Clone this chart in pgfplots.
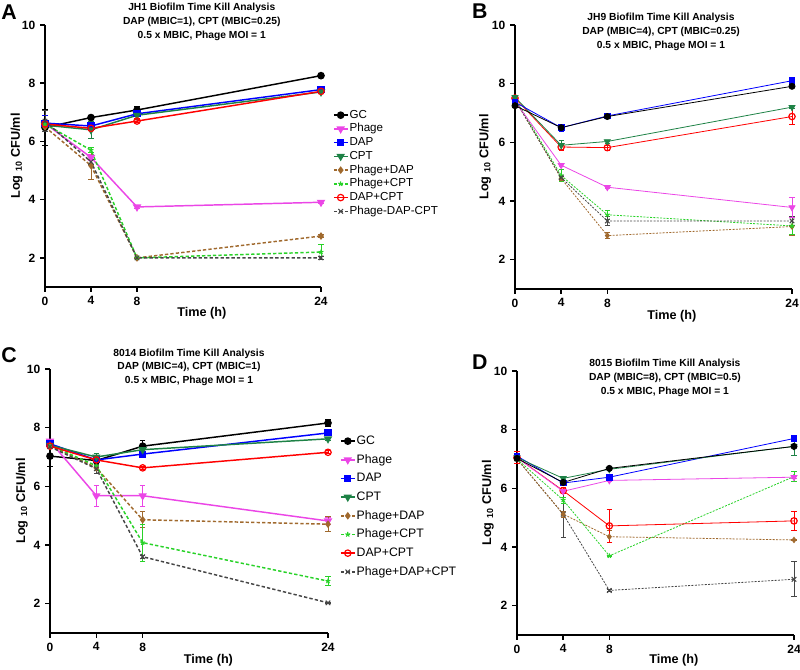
\documentclass[border=0pt]{standalone}
\usepackage{fontspec}
\setmainfont{Liberation Sans}
\usepackage{pgfplots}
\pgfplotsset{compat=1.18}
\definecolor{cMag}{RGB}{235,70,230}
\definecolor{cCPT}{RGB}{30,130,70}
\definecolor{cBrown}{RGB}{160,105,45}
\definecolor{cLime}{RGB}{40,210,40}
\definecolor{cGray}{RGB}{70,70,70}
\pgfplotsset{
  eb/.style={error bars/y dir=both, error bars/y explicit,
     error bars/error bar style={line width=0.6pt,solid},
     error bars/error mark options={rotate=90, mark size=2pt, line width=0.6pt, solid}},
  panel/.style={scale only axis, clip=false, axis lines*=left,
     xmin=0, xmax=24, ymin=1, ymax=10,
     xtick={0,4,8,24}, ytick={2,4,6,8,10},
     tick align=outside, major tick length=3.75pt,
     axis line style={line width=1.4pt, black},
     tick style={line width=1.2pt, black},
     tick label style={font=\bfseries\fontsize{9}{10}\selectfont},
     /pgf/number format/assume math mode=true,
     label style={font=\bfseries\fontsize{9.5}{11}\selectfont},
     xlabel={Time (h)}, ylabel={Log \textsubscript{10} CFU/ml},
     title style={font=\bfseries\fontsize{7.7}{10.35}\selectfont, align=center, anchor=north, inner sep=0pt},
     legend cell align=left,
     legend image code/.code={\draw[mark repeat=2,mark phase=2] plot coordinates {(0cm,0cm) (0.18cm,0cm) (0.36cm,0cm)};},
  },
  thk/.style={line width=1.1pt},
  thn/.style={line width=0.6pt},
  dA/.style={dash pattern=on 2.5pt off 1.6pt},
  dB/.style={dash pattern=on 1.5pt off 1pt},
  sGC/.style={black, mark=*, mark size=2.3pt, mark options={solid}, eb},
  sPh/.style={cMag, mark=triangle*, mark size=2.6pt, mark options={solid, rotate=180}, eb},
  sDAP/.style={blue, mark=square*, mark size=2.1pt, mark options={solid}, eb},
  sCPT/.style={cCPT, mark=triangle*, mark size=2.6pt, mark options={solid, rotate=180}, eb},
  sPD/.style={cBrown, mark=diamond*, mark size=2pt, mark options={solid}, eb},
  sPC/.style={cLime, mark=star, mark size=1.9pt, mark options={solid, line width=0.8pt}, eb},
  sDC/.style={red, mark=o, mark size=2.4pt, mark options={solid, line width=0.9pt}, eb},
  sPDC/.style={cGray, mark=x, mark size=2.4pt, mark options={solid, line width=0.8pt}, eb},
}
\begin{document}
\begin{tikzpicture}
\useasboundingbox (0,0) rectangle (600pt,502.5pt);
% panel letters
\node[anchor=north west, inner sep=0pt, font=\bfseries\fontsize{16}{18}\selectfont] at (0.75pt,498.75pt) {A};
\node[anchor=north west, inner sep=0pt, font=\bfseries\fontsize{16}{18}\selectfont] at (353.8pt,499.5pt) {B};
\node[anchor=north west, inner sep=0pt, font=\bfseries\fontsize{16}{18}\selectfont] at (0.75pt,242.25pt) {C};
\node[anchor=north west, inner sep=0pt, font=\bfseries\fontsize{16}{18}\selectfont] at (353.8pt,236.25pt) {D};

%================= A =================
\begin{axis}[panel, at={(33.75pt,287.25pt)}, anchor=origin, width=207pt, height=196.5pt,
  title={JH1 Biofilm Time Kill Analysis\\DAP (MBIC=1), CPT (MBIC=0.25)\\0.5 x MBIC, Phage MOI = 1},
  title style={at={(rel axis cs:0.568,1)}, yshift=10.3pt},
  xlabel style={at={(axis description cs:0.568,-0.099)}, anchor=center},
  ylabel style={at={(axis description cs:-0.103,0.5)}, anchor=center},
  legend style={at={(rel axis cs:1.043,0.683)}, anchor=north west, draw=none, fill=none,
     font=\fontsize{8.7}{10.3}\selectfont, inner sep=0pt, row sep=0pt,
     nodes={inner sep=1pt, text height=6.4pt, text depth=1.9pt}},
]
\addplot[sGC, thk] coordinates {(0,6.48) +- (0,0.62) (4,6.82) +- (0,0.05) (8,7.08) +- (0,0.12) (24,8.26) +- (0,0.04)};
\addlegendentry{GC}
\addplot[sPh, thk] coordinates {(0,6.62) +- (0,0.05) (4,5.45) +- (0,0.1) (8,3.75) +- (0,0.05) (24,3.91) +- (0,0.05)};
\addlegendentry{Phage}
\addplot[sDAP, thk] coordinates {(0,6.63) +- (0,0.27) (4,6.53) +- (0,0.08) (8,6.95) +- (0,0.1) (24,7.78) +- (0,0.05)};
\addlegendentry{DAP}
\addplot[sCPT, thk] coordinates {(0,6.56) +- (0,0.1) (4,6.4) +- (0,0.3) (8,6.9) +- (0,0.1) (24,7.7) +- (0,0.05)};
\addlegendentry{CPT}
\addplot[sPD, thk, dA] coordinates {(0,6.5) +- (0,0.1) (4,5.17) +- (0,0.47) (8,2.0) +- (0,0.03) (24,2.75) +- (0,0.05)};
\addlegendentry{Phage+DAP}
\addplot[sPC, thk, dA] coordinates {(0,6.6) +- (0,0.1) (4,5.7) +- (0,0.08) (8,2.0) +- (0,0.03) (24,2.2) +- (0,0.25)};
\addlegendentry{Phage+CPT}
\addplot[sDC, thk] coordinates {(0,6.6) +- (0,0.1) (4,6.45) +- (0,0.05) (8,6.7) +- (0,0.05) (24,7.72) +- (0,0.05)};
\addlegendentry{DAP+CPT}
\addplot[sPDC, thk, dA] coordinates {(0,6.7) +- (0,0.35) (4,5.3) +- (0,0.1) (8,2.0) +- (0,0.03) (24,2.0) +- (0,0.05)};
\addlegendentry{Phage-DAP-CPT}
\end{axis}

%================= B =================
\begin{axis}[panel, at={(386.25pt,285.75pt)}, anchor=origin, width=207.75pt, height=198pt,
  title={JH9 Biofilm Time Kill Analysis\\DAP (MBIC=4), CPT (MBIC=0.25)\\0.5 x MBIC, Phage MOI = 1},
  title style={at={(rel axis cs:0.527,1)}, yshift=2.8pt},
  xlabel style={at={(axis description cs:0.566,-0.102)}, anchor=center},
  ylabel style={at={(axis description cs:-0.108,0.5)}, anchor=center},
]
\addplot[sPD, thn, dB] coordinates {(0,7.45) +- (0,0.05) (4,4.77) +- (0,0.07) (8,2.82) +- (0,0.1) (24,3.13) +- (0,0.3)};
\addplot[sPC, thn, dB] coordinates {(0,7.5) +- (0,0.05) (4,4.87) +- (0,0.2) (8,3.53) +- (0,0.15) (24,3.15) +- (0,0.3)};
\addplot[sPDC, thn, dB] coordinates {(0,7.45) +- (0,0.05) (4,4.8) +- (0,0.05) (8,3.32) +- (0,0.15) (24,3.32) +- (0,0.15)};
\addplot[sPh, thn] coordinates {(0,7.4) +- (0,0.05) (4,5.22) +- (0,0.05) (8,4.47) +- (0,0.05) (24,3.78) +- (0,0.35)};
\addplot[sDC, thn] coordinates {(0,7.51) +- (0,0.05) (4,5.84) +- (0,0.12) (8,5.82) +- (0,0.08) (24,6.88) +- (0,0.28)};
\addplot[sCPT, thn] coordinates {(0,7.54) +- (0,0.05) (4,5.9) +- (0,0.15) (8,6.03) +- (0,0.05) (24,7.2) +- (0,0.05)};
\addplot[sDAP, thn] coordinates {(0,7.37) +- (0,0.05) (4,6.5) +- (0,0.12) (8,6.9) +- (0,0.1) (24,8.1) +- (0,0.12)};
\addplot[sGC, thn] coordinates {(0,7.25) +- (0,0.05) (4,6.5) +- (0,0.1) (8,6.88) +- (0,0.05) (24,7.91) +- (0,0.05)};
\end{axis}

%================= C =================
\begin{axis}[panel, at={(37.5pt,27.75pt)}, anchor=origin, width=208.5pt, height=198pt,
  title={8014 Biofilm Time Kill Analysis\\DAP (MBIC=4), CPT (MBIC=1)\\0.5 x MBIC, Phage MOI = 1},
  title style={at={(rel axis cs:0.5,1)}, yshift=9.5pt},
  xlabel style={at={(axis description cs:0.57,-0.102)}, anchor=center},
  ylabel style={at={(axis description cs:-0.101,0.5)}, anchor=center},
  legend style={at={(rel axis cs:1.043,0.755)}, anchor=north west, draw=none, fill=none,
     font=\fontsize{9.2}{11}\selectfont, inner sep=0pt, row sep=3.2pt,
     nodes={inner sep=1pt, text height=6.8pt, text depth=2pt}},
]
\addplot[sGC, thk] coordinates {(0,7.03) +- (0,0.35) (4,6.88) +- (0,0.1) (8,7.37) +- (0,0.18) (24,8.16) +- (0,0.12)};
\addlegendentry{GC}
\addplot[sPh, thk] coordinates {(0,7.54) +- (0,0.05) (4,5.68) +- (0,0.35) (8,5.68) +- (0,0.35) (24,4.82) +- (0,0.12)};
\addlegendentry{Phage}
\addplot[sDAP, thk] coordinates {(0,7.45) +- (0,0.05) (4,6.9) +- (0,0.05) (8,7.1) +- (0,0.05) (24,7.82) +- (0,0.05)};
\addlegendentry{DAP}
\addplot[sCPT, thk] coordinates {(0,7.4) +- (0,0.05) (4,7.0) +- (0,0.12) (8,7.25) +- (0,0.05) (24,7.62) +- (0,0.05)};
\addlegendentry{CPT}
\addplot[sPD, thk, dA] coordinates {(0,7.4) +- (0,0.05) (4,6.63) +- (0,0.1) (8,4.86) +- (0,0.27) (24,4.71) +- (0,0.25)};
\addlegendentry{Phage+DAP}
\addplot[sPC, thk, dA] coordinates {(0,7.4) +- (0,0.05) (4,6.7) +- (0,0.05) (8,4.08) +- (0,0.63) (24,2.77) +- (0,0.15)};
\addlegendentry{Phage+CPT}
\addplot[sDC, thk] coordinates {(0,7.37) +- (0,0.05) (4,6.9) +- (0,0.05) (8,6.63) +- (0,0.05) (24,7.16) +- (0,0.05)};
\addlegendentry{DAP+CPT}
\addplot[sPDC, thk, dA] coordinates {(0,7.35) +- (0,0.05) (4,6.6) +- (0,0.15) (8,3.6) +- (0,0.05) (24,2.03) +- (0,0.03)};
\addlegendentry{Phage+DAP+CPT}
\end{axis}

%================= D =================
\begin{axis}[panel, at={(387.75pt,26.25pt)}, anchor=origin, width=207.75pt, height=198pt,
  title={8015 Biofilm Time Kill Analysis\\DAP (MBIC=8), CPT (MBIC=0.5)\\0.5 x MBIC, Phage MOI = 1},
  title style={at={(rel axis cs:0.534,1)}, yshift=2.8pt},
  xlabel style={at={(axis description cs:0.566,-0.095)}, anchor=center},
  ylabel style={at={(axis description cs:-0.105,0.5)}, anchor=center},
]
\addplot[sPDC, thn, dB] coordinates {(0,7.0) +- (0,0.05) (4,5.12) +- (0,0.8) (8,2.52) +- (0,0.03) (24,2.9) +- (0,0.6)};
\addplot[sPD, thn, dB] coordinates {(0,7.0) +- (0,0.05) (4,5.12) +- (0,0.1) (8,4.35) +- (0,0.2) (24,4.24) +- (0,0.03)};
\addplot[sPC, thn, dB] coordinates {(0,7.0) +- (0,0.05) (4,5.6) +- (0,0.1) (8,3.7) +- (0,0.03) (24,6.4) +- (0,0.18)};
\addplot[sDC, thn] coordinates {(0,7.05) +- (0,0.2) (4,5.92) +- (0,0.1) (8,4.72) +- (0,0.55) (24,4.89) +- (0,0.33)};
\addplot[sPh, thn] coordinates {(0,7.05) +- (0,0.05) (4,5.9) +- (0,0.05) (8,6.27) +- (0,0.05) (24,6.38) +- (0,0.05)};
\addplot[sDAP, thn] coordinates {(0,7.1) +- (0,0.05) (4,6.18) +- (0,0.05) (8,6.38) +- (0,0.05) (24,7.7) +- (0,0.05)};
\addplot[sCPT, thn] coordinates {(0,7.05) +- (0,0.05) (4,6.34) +- (0,0.05) (8,6.65) +- (0,0.05) (24,7.43) +- (0,0.3)};
\addplot[sGC, thn] coordinates {(0,7.02) +- (0,0.05) (4,6.2) +- (0,0.05) (8,6.68) +- (0,0.05) (24,7.43) +- (0,0.05)};
\end{axis}
\end{tikzpicture}
\end{document}
